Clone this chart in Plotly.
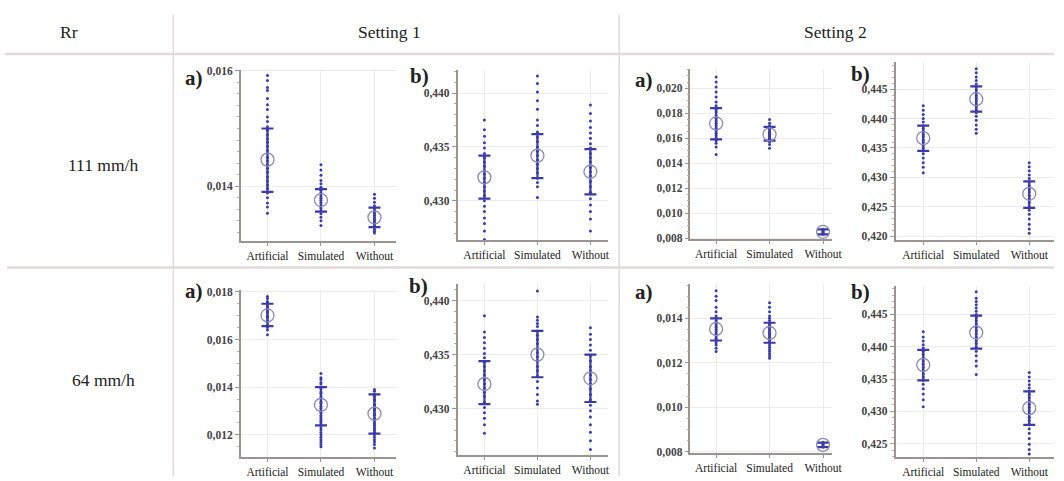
import plotly.graph_objects as go

W, H = 1064, 481
categories = ["Artificial", "Simulated", "Without"]

# ---------------- data ----------------
# Setting 1, 111 mm/h, a)
s1_111a_mean = [0.01446, 0.01376, 0.01346]
s1_111a_hi = [0.01500, 0.01395, 0.01363]
s1_111a_lo = [0.01390, 0.01356, 0.01329]
s1_111a_art = [0.01592, 0.01583, 0.01571, 0.01566, 0.01552, 0.01541, 0.01533, 0.01520, 0.01512, 0.01503,
               0.01497, 0.01489, 0.01482, 0.01476, 0.01469, 0.01462, 0.01457, 0.01450, 0.01444, 0.01437,
               0.01431, 0.01424, 0.01416, 0.01409, 0.01402, 0.01396, 0.01388, 0.01380, 0.01371, 0.01364, 0.01353]
s1_111a_sim = [0.01437, 0.01428, 0.01419, 0.01410, 0.01404, 0.01398, 0.01393, 0.01388, 0.01383, 0.01379,
               0.01375, 0.01371, 0.01366, 0.01362, 0.01357, 0.01352, 0.01346, 0.01340, 0.01332]
s1_111a_wo = [0.01386, 0.01379, 0.01372, 0.01366, 0.01361, 0.01357, 0.01353, 0.01349, 0.01345, 0.01341,
              0.01337, 0.01333, 0.01329, 0.01325, 0.01322, 0.01319]

# Setting 1, 111 mm/h, b)
s1_111b_mean = [0.43218, 0.4342, 0.4327]
s1_111b_hi = [0.4342, 0.4362, 0.4348]
s1_111b_lo = [0.4302, 0.4321, 0.4306]
s1_111b_art = [0.4375, 0.4366, 0.4360, 0.4354, 0.4349, 0.4344, 0.4340, 0.4336, 0.4332, 0.4328, 0.4325,
               0.4321, 0.4317, 0.4313, 0.4309, 0.4305, 0.4300, 0.4295, 0.4290, 0.4284, 0.4279, 0.4272, 0.4264]
s1_111b_sim = [0.4416, 0.4409, 0.4401, 0.4393, 0.4385, 0.4375, 0.4370, 0.4364, 0.4359, 0.4355, 0.4350,
               0.4346, 0.4342, 0.4338, 0.4334, 0.4330, 0.4326, 0.4321, 0.4317, 0.4313, 0.4303]
s1_111b_wo = [0.4389, 0.4381, 0.4374, 0.4368, 0.4363, 0.4358, 0.4353, 0.4349, 0.4344, 0.4340, 0.4336,
              0.4331, 0.4327, 0.4323, 0.4318, 0.4313, 0.4308, 0.4302, 0.4296, 0.4290, 0.4283, 0.4272]

# Setting 2, 111 mm/h, a)
s2_111a_mean = [0.01718, 0.0163, 0.0085]
s2_111a_hi = [0.0184, 0.0169, 0.0087]
s2_111a_lo = [0.0159, 0.0158, 0.0083]
s2_111a_art = [0.0209, 0.0205, 0.0201, 0.0197, 0.0193, 0.0189, 0.0186, 0.0183, 0.0181, 0.0178, 0.0176,
               0.0174, 0.0172, 0.0170, 0.0168, 0.0166, 0.0164, 0.0162, 0.0160, 0.0158, 0.0156, 0.0153, 0.0147]
s2_111a_sim = [0.0175, 0.0172, 0.0170, 0.0168, 0.0167, 0.0165, 0.0164, 0.0163, 0.0162, 0.0161, 0.0160,
               0.0159, 0.0158, 0.0157, 0.0155, 0.0152]
s2_111a_wo = [0.0087, 0.0086, 0.0085, 0.0085, 0.0084, 0.0083]

# Setting 2, 111 mm/h, b)
s2_111b_mean = [0.43667, 0.4433, 0.4272]
s2_111b_hi = [0.4388, 0.4455, 0.4293]
s2_111b_lo = [0.4345, 0.4412, 0.4248]
s2_111b_art = [0.4422, 0.4414, 0.4407, 0.4400, 0.4394, 0.4388, 0.4383, 0.4378, 0.4373, 0.4369, 0.4364,
               0.4360, 0.4355, 0.4350, 0.4345, 0.4340, 0.4333, 0.4325, 0.4317, 0.4308]
s2_111b_sim = [0.4485, 0.4478, 0.4471, 0.4465, 0.4459, 0.4454, 0.4449, 0.4444, 0.4439, 0.4434, 0.4430,
               0.4425, 0.4420, 0.4415, 0.4410, 0.4404, 0.4397, 0.4389, 0.4382, 0.4375]
s2_111b_wo = [0.4325, 0.4318, 0.4311, 0.4304, 0.4298, 0.4292, 0.4286, 0.4280, 0.4275, 0.4269, 0.4263,
              0.4257, 0.4250, 0.4244, 0.4237, 0.4229, 0.4220, 0.4212, 0.4205]

# Setting 1, 64 mm/h, a)
s1_64a_mean = [0.01701, 0.01326, 0.01289]
s1_64a_hi = [0.0175, 0.0140, 0.0137]
s1_64a_lo = [0.01656, 0.0124, 0.01205]
s1_64a_art = [0.0178, 0.01772, 0.0176, 0.01753, 0.0174, 0.01731, 0.0172, 0.01712, 0.0170, 0.01693,
              0.0168, 0.01672, 0.0166, 0.0165, 0.0164, 0.0162]
s1_64a_sim = [0.01457, 0.0144, 0.01432, 0.0142, 0.01413, 0.0140, 0.01392, 0.0138, 0.01373, 0.0136,
              0.01352, 0.0134, 0.01333, 0.0132, 0.01311, 0.0130, 0.01292, 0.0128, 0.01271, 0.0126,
              0.01252, 0.0124, 0.0123, 0.0122, 0.0121, 0.0120, 0.0119, 0.0118, 0.0117, 0.0116, 0.0115]
s1_64a_wo = [0.0139, 0.01383, 0.0137, 0.01362, 0.0135, 0.01343, 0.0133, 0.01322, 0.0131, 0.01302,
             0.0129, 0.01282, 0.0127, 0.01261, 0.0125, 0.0124, 0.0123, 0.0122, 0.0121, 0.0120,
             0.0119, 0.0118, 0.0117, 0.0116, 0.01145]

# Setting 1, 64 mm/h, b)
s1_64b_mean = [0.43227, 0.4350, 0.4328]
s1_64b_hi = [0.4344, 0.4372, 0.4350]
s1_64b_lo = [0.4304, 0.4329, 0.4306]
s1_64b_art = [0.4386, 0.4371, 0.4366, 0.4361, 0.4356, 0.4351, 0.4347, 0.4343, 0.4339, 0.4335, 0.4331,
              0.4327, 0.4323, 0.4319, 0.4315, 0.4311, 0.4306, 0.4301, 0.4296, 0.4291, 0.4285, 0.4277]
s1_64b_sim = [0.4409, 0.4385, 0.4382, 0.4379, 0.4376, 0.4372, 0.4368, 0.4364, 0.4360, 0.4356, 0.4352,
              0.4348, 0.4344, 0.4339, 0.4335, 0.4330, 0.4325, 0.4319, 0.4313, 0.4307, 0.4304]
s1_64b_wo = [0.4375, 0.4369, 0.4364, 0.4359, 0.4354, 0.4349, 0.4344, 0.4339, 0.4335, 0.4331, 0.4327,
             0.4323, 0.4318, 0.4313, 0.4308, 0.4303, 0.4298, 0.4292, 0.4285, 0.4278, 0.4270, 0.4262]

# Setting 2, 64 mm/h, a)
s2_64a_mean = [0.01352, 0.01334, 0.0083]
s2_64a_hi = [0.0140, 0.0138, 0.0084]
s2_64a_lo = [0.0130, 0.0129, 0.0082]
s2_64a_art = [0.01524, 0.0150, 0.0148, 0.0145, 0.0143, 0.0141, 0.0140, 0.0139, 0.0138, 0.0137, 0.0136,
              0.0135, 0.0134, 0.0133, 0.0132, 0.0131, 0.0130, 0.0129, 0.0128, 0.01265, 0.0125]
s2_64a_sim = [0.0147, 0.0145, 0.0143, 0.0141, 0.0140, 0.0139, 0.0138, 0.0137, 0.0136, 0.0135, 0.0134,
              0.0133, 0.0132, 0.0131, 0.0130, 0.0129, 0.0128, 0.0127, 0.0126, 0.0125, 0.0124, 0.0123, 0.0122]
s2_64a_wo = [0.0084, 0.0083, 0.0083, 0.0082]

# Setting 2, 64 mm/h, b)
s2_64b_mean = [0.4372, 0.4422, 0.4305]
s2_64b_hi = [0.4395, 0.4448, 0.4331]
s2_64b_lo = [0.4348, 0.4397, 0.4279]
s2_64b_art = [0.4423, 0.4415, 0.4409, 0.4403, 0.4398, 0.4393, 0.4388, 0.4383, 0.4378, 0.4373, 0.4368,
              0.4363, 0.4358, 0.4353, 0.4348, 0.4342, 0.4335, 0.4327, 0.4318, 0.4307]
s2_64b_sim = [0.4485, 0.4475, 0.4470, 0.4465, 0.4460, 0.4455, 0.4450, 0.4445, 0.4440, 0.4435, 0.4430,
              0.4425, 0.4420, 0.4415, 0.4410, 0.4405, 0.4399, 0.4393, 0.4386, 0.4378, 0.4370, 0.4357]
s2_64b_wo = [0.4360, 0.4353, 0.4347, 0.4341, 0.4336, 0.4331, 0.4326, 0.4321, 0.4316, 0.4311, 0.4306,
             0.4301, 0.4296, 0.4291, 0.4286, 0.4280, 0.4273, 0.4266, 0.4258, 0.4249, 0.4241, 0.4234]

# y tick values of each panel
ticks_s1_111a = [0.014, 0.016]
ticks_s1_111b = [0.430, 0.435, 0.440]
ticks_s2_111a = [0.008, 0.010, 0.012, 0.014, 0.016, 0.018, 0.020]
ticks_s2_111b = [0.420, 0.425, 0.430, 0.435, 0.440, 0.445]
ticks_s1_64a = [0.012, 0.014, 0.016, 0.018]
ticks_s1_64b = [0.430, 0.435, 0.440]
ticks_s2_64a = [0.008, 0.010, 0.012, 0.014]
ticks_s2_64b = [0.425, 0.430, 0.435, 0.440, 0.445]

header_labels = ["Rr", "Setting 1", "Setting 2"]
row_labels = ["111 mm/h", "64 mm/h"]

# ---------------- layout helpers ----------------
def px_x(x):
    return x / W

def px_y(y):
    return 1 - y / H

panels = [
    dict(m=s1_111a_mean, hi=s1_111a_hi, lo=s1_111a_lo, pts=[s1_111a_art, s1_111a_sim, s1_111a_wo],
         ticks=ticks_s1_111a, box=(243, 400, 66, 241), yr=[0.01305, 0.01602], xr=[-0.5, 2.407],
         lab="a)", lpos=(196, 75), minor=0.0002),
    dict(m=s1_111b_mean, hi=s1_111b_hi, lo=s1_111b_lo, pts=[s1_111b_art, s1_111b_sim, s1_111b_wo],
         ticks=ticks_s1_111b, box=(462, 614, 66, 240), yr=[0.42636, 0.44218], xr=[-0.505, 2.336],
         lab="b)", lpos=(423, 72), minor=0.001),
    dict(m=s2_111a_mean, hi=s2_111a_hi, lo=s2_111a_lo, pts=[s2_111a_art, s2_111a_sim, s2_111a_wo],
         ticks=ticks_s2_111a, box=(697, 840, 65, 239), yr=[0.00792, 0.02157], xr=[-0.48, 2.17],
         lab="a)", lpos=(650, 77), minor=0.0005),
    dict(m=s2_111b_mean, hi=s2_111b_hi, lo=s2_111b_lo, pts=[s2_111b_art, s2_111b_sim, s2_111b_wo],
         ticks=ticks_s2_111b, box=(904, 1064, 58, 240), yr=[0.41933, 0.44967], xr=[-0.523, 2.467],
         lab="b)", lpos=(869, 70), minor=0.001),
    dict(m=s1_64a_mean, hi=s1_64a_hi, lo=s1_64a_lo, pts=[s1_64a_art, s1_64a_sim, s1_64a_wo],
         ticks=ticks_s1_64a, box=(243, 400, 291, 462), yr=[0.011055, 0.01808], xr=[-0.5, 2.407],
         lab="a)", lpos=(196, 292), minor=0.0005),
    dict(m=s1_64b_mean, hi=s1_64b_hi, lo=s1_64b_lo, pts=[s1_64b_art, s1_64b_sim, s1_64b_wo],
         ticks=ticks_s1_64b, box=(462, 614, 285, 460), yr=[0.42564, 0.44155], xr=[-0.505, 2.336],
         lab="b)", lpos=(422, 287), minor=0.001),
    dict(m=s2_64a_mean, hi=s2_64a_hi, lo=s2_64a_lo, pts=[s2_64a_art, s2_64a_sim, s2_64a_wo],
         ticks=ticks_s2_64a, box=(697, 840, 285, 458), yr=[0.00791, 0.015544], xr=[-0.48, 2.17],
         lab="a)", lpos=(650, 293), minor=0.0005),
    dict(m=s2_64b_mean, hi=s2_64b_hi, lo=s2_64b_lo, pts=[s2_64b_art, s2_64b_sim, s2_64b_wo],
         ticks=ticks_s2_64b, box=(904, 1064, 287, 462), yr=[0.42288, 0.44939], xr=[-0.523, 2.467],
         lab="b)", lpos=(869, 293), minor=0.001),
]

fig = go.Figure()
layout_axes = {}
annotations = []

AXIS_COL = "#9c948e"
GRID_COL = "#ececec"
DOT_COL = "#3b3bb0"
SERIF = "Liberation Serif"

for i, p in enumerate(panels, start=1):
    xa = "x" if i == 1 else f"x{i}"
    ya = "y" if i == 1 else f"y{i}"
    xs, ys = [], []
    for c, vals in zip(categories, p["pts"]):
        xs += [c] * len(vals)
        ys += vals
    fig.add_trace(go.Scatter(x=xs, y=ys, mode="markers", xaxis=xa, yaxis=ya,
                             marker=dict(color=DOT_COL, size=3, line=dict(width=0)),
                             showlegend=False, hoverinfo="y"))
    fig.add_trace(go.Scatter(x=categories, y=p["m"], mode="markers", xaxis=xa, yaxis=ya,
                             marker=dict(color="rgba(0,0,0,0)", size=1),
                             error_y=dict(type="data", symmetric=False,
                                          array=[h - m for h, m in zip(p["hi"], p["m"])],
                                          arrayminus=[m - l for l, m in zip(p["lo"], p["m"])],
                                          color="#3a3aa8", thickness=2.2, width=6),
                             showlegend=False, hoverinfo="skip"))
    fig.add_trace(go.Scatter(x=categories, y=p["m"], mode="markers", xaxis=xa, yaxis=ya,
                             marker=dict(symbol="circle-open", size=13, color="#8a8ab8",
                                         line=dict(width=1.3, color="#8a8ab8")),
                             showlegend=False, hoverinfo="y"))
    x0, x1, yt, yb = p["box"]
    key_x = "xaxis" if i == 1 else f"xaxis{i}"
    key_y = "yaxis" if i == 1 else f"yaxis{i}"
    layout_axes[key_x] = dict(domain=[px_x(x0), min(1.0, px_x(x1))], anchor=ya, type="category",
                              categoryorder="array", categoryarray=categories, range=p["xr"],
                              showline=True, linecolor=AXIS_COL, linewidth=1.5,
                              showgrid=True, gridcolor=GRID_COL, gridwidth=1,
                              ticks="outside", ticklen=3, tickcolor=AXIS_COL,
                              tickfont=dict(family=SERIF, size=11.5, color="#222"),
                              zeroline=False, fixedrange=True)
    layout_axes[key_y] = dict(domain=[px_y(yb), px_y(yt)], anchor=xa, range=p["yr"],
                              tickvals=p["ticks"],
                              ticktext=[f"{t:.3f}".replace(".", ",") for t in p["ticks"]],
                              showline=True, linecolor=AXIS_COL, linewidth=1.5,
                              showgrid=True, gridcolor=GRID_COL, gridwidth=1,
                              ticks="outside", ticklen=4, tickcolor=AXIS_COL,
                              minor=dict(dtick=p["minor"], ticks="outside", ticklen=2,
                                         tickcolor="#b8b0aa", showgrid=False),
                              tickfont=dict(family=SERIF, size=11.5, color="#444", weight="bold"),
                              zeroline=False, fixedrange=True)
    annotations.append(dict(text=f"<b>{p['lab']}</b>", x=px_x(p["lpos"][0]), y=px_y(p["lpos"][1]),
                            xref="paper", yref="paper", showarrow=False,
                            font=dict(family=SERIF, size=21, color="#222"),
                            xanchor="center", yanchor="middle"))

for txt, xp in zip(header_labels, [70, 393, 843]):
    annotations.append(dict(text=txt, x=px_x(xp), y=px_y(28), xref="paper", yref="paper",
                            showarrow=False, font=dict(family=SERIF, size=17.5, color="#222"),
                            xanchor="center", yanchor="middle"))
for txt, yp in zip(row_labels, [163, 383]):
    annotations.append(dict(text=txt, x=px_x(104), y=px_y(yp), xref="paper", yref="paper",
                            showarrow=False, font=dict(family=SERIF, size=17.5, color="#222"),
                            xanchor="center", yanchor="middle"))

LINE_COL = "#e2dada"
shapes = [
    dict(type="line", xref="paper", yref="paper", x0=px_x(5), x1=1, y0=px_y(50), y1=px_y(50),
         line=dict(color=LINE_COL, width=2.5)),
    dict(type="line", xref="paper", yref="paper", x0=px_x(7), x1=1, y0=px_y(268), y1=px_y(268),
         line=dict(color=LINE_COL, width=2.5)),
    dict(type="line", xref="paper", yref="paper", x0=px_x(175), x1=px_x(175), y0=px_y(10), y1=0,
         line=dict(color=LINE_COL, width=1.5)),
    dict(type="line", xref="paper", yref="paper", x0=px_x(625), x1=px_x(625), y0=px_y(10), y1=0,
         line=dict(color=LINE_COL, width=1.5)),
]

fig.update_layout(width=W, height=H, margin=dict(l=0, r=0, t=0, b=0),
                  paper_bgcolor="white", plot_bgcolor="white",
                  annotations=annotations, shapes=shapes, showlegend=False, **layout_axes)

fig.write_html("out.html", config={"displayModeBar": False})

# remove the browser's default page margin so the figure sits at the window's corner
with open("out.html", encoding="utf-8") as f:
    html = f.read()
html = html.replace("<head>", "<head><style>html,body{margin:0;padding:0;overflow:hidden;}</style>", 1)
with open("out.html", "w", encoding="utf-8") as f:
    f.write(html)
